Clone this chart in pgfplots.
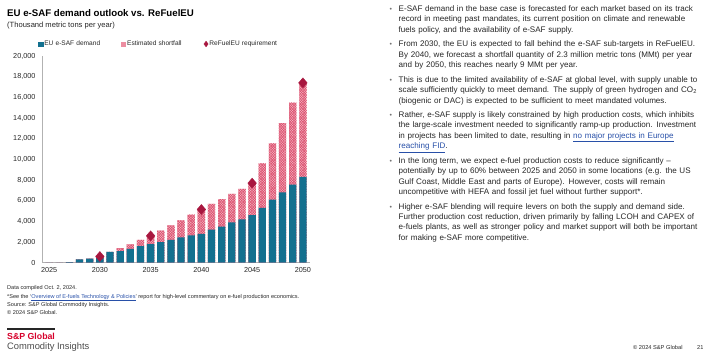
\documentclass[border=0pt]{standalone}
\usepackage{fontspec}
\setmainfont{Liberation Sans}
\usepackage{pgfplots}
\usepackage{pgfplotstable}
\pgfplotsset{compat=1.18}
\usetikzlibrary{patterns.meta}
\definecolor{tealc}{HTML}{13708F}
\definecolor{pinkl}{HTML}{F5B9C5}
\definecolor{pinkd}{HTML}{DC4F6E}
\definecolor{pinkm}{HTML}{EC8EA1}
\definecolor{redd}{HTML}{A8173F}
\definecolor{spred}{HTML}{D6002A}
\definecolor{linkb}{HTML}{2850A8}
\definecolor{txt}{HTML}{262626}

\pgfplotstableread{
year demand shortfall
2025 0 0
2026 10 0
2027 50 0
2028 330 0
2029 400 0
2030 450 180
2031 1050 0
2032 1120 300
2033 1330 450
2034 1600 600
2035 1800 800
2036 2000 1100
2037 2200 1400
2038 2450 1650
2039 2650 2000
2040 2800 2350
2041 3200 2500
2042 3500 2650
2043 3900 2750
2044 4200 2950
2045 4600 3100
2046 5300 4300
2047 6100 5450
2048 6800 6700
2049 7550 7950
2050 8300 9100
}\esaf

\pgfplotstableread{
year req
2030 600
2035 2600
2040 5150
2045 7700
2050 17400
}\refuel

\begin{document}
\begin{tikzpicture}
\path[use as bounding box] (0,0) rectangle (703bp,-356bp);

% titles
\node[anchor=base west, inner sep=0, font=\fontsize{9.7}{11}\selectfont\bfseries, text=black] at (7bp,-16.3bp) {EU e-SAF demand outlook vs. ReFuelEU};
\node[anchor=base west, inner sep=0, font=\fontsize{7.6}{9}\selectfont, text=txt] at (7bp,-27.8bp) {(Thousand metric tons per year)};

\begin{axis}[
  at={(42bp,-262.7bp)}, anchor=south west,
  scale only axis, width=268bp, height=206.7bp,
  xmin=2024.3, xmax=2050.7, ymin=0, ymax=20000,
  axis x line*=bottom, axis y line*=left,
  axis line style={draw=black!30, line width=0.5bp},
  major tick length=0pt,
  xtick={2025,2030,2035,2040,2045,2050},
  xticklabels={2025,2030,2035,2040,2045,2050},
  ytick={0,2000,...,20000},
  /pgf/number format/.cd, 1000 sep={,}, assume math mode=true, /pgfplots/.cd,
  scaled y ticks=false,
  tick label style={font=\fontsize{7.3}{8}\selectfont, text=txt},
  yticklabel style={xshift=-3bp},
  xticklabel style={yshift=-1bp},
  legend style={at={(axis description cs:-0.015,1.058)}, anchor=west,
    draw=none, fill=none, inner sep=0pt, legend columns=3, column sep=0pt,
    nodes={inner xsep=1.3bp, inner ysep=0pt, text width=75.5bp, align=left,
      font=\fontsize{6.6}{7}\selectfont, text=txt}},
  legend cell align=left,
  clip=false,
]
\addlegendimage{legend image code/.code={\fill[tealc] (0bp,-2.2bp) rectangle (4.4bp,2.2bp);}}
\addlegendentry{EU e-SAF demand}
\addlegendimage{legend image code/.code={\fill[pinkm] (0bp,-2.2bp) rectangle (4.4bp,2.2bp);}}
\addlegendentry{Estimated shortfall}
\addlegendimage{legend image code/.code={\path[redd, mark=diamond*, mark size=2.8bp] plot coordinates {(2.2bp,0bp)};}}
\addlegendentry{ReFuelEU requirement}

\addplot[forget plot, ybar, bar width=7.3bp, bar shift=0pt, draw=none, fill=pinkl,
  postaction={pattern={Lines[angle=45,distance=1.8bp,line width=0.6bp]}, pattern color=pinkd},
  postaction={pattern={Lines[angle=-45,distance=1.8bp,line width=0.6bp]}, pattern color=pinkd}]
  table[x=year, y expr=\thisrow{demand}+\thisrow{shortfall}] {\esaf};
\addplot[forget plot, ybar, bar width=7.3bp, bar shift=0pt, draw=none, fill=tealc]
  table[x=year, y=demand] {\esaf};
\addplot[forget plot, only marks, mark=diamond*, mark size=5bp, mark options={xscale=1.15}, color=redd]
  table[x=year, y=req] {\refuel};
\end{axis}

% footnotes
\begin{scope}[every node/.style={anchor=base west, inner sep=0, font=\fontsize{5.6}{6.5}\selectfont, text=txt}]
\node at (7bp,-289bp) {Data compiled Oct. 2, 2024.};
\node at (7bp,-298bp) {*See the ‘{\color{linkb}\underline{Overview of E-fuels Technology \& Policies}}’ report for high-level commentary on e-fuel production economics.};
\node at (7bp,-306bp) {Source: S\&P Global Commodity Insights.};
\node at (7bp,-314bp) {© 2024 S\&P Global.};
\end{scope}

% logo
\draw[line width=1.3bp, black!85] (7bp,-329bp) -- (55bp,-329bp);
\node[anchor=base west, inner sep=0, font=\fontsize{8.8}{10}\selectfont\bfseries, text=spred] at (7bp,-339bp) {S\&P Global};
\node[anchor=base west, inner sep=0, font=\fontsize{9.4}{10}\selectfont, text=black!70] at (7bp,-349.5bp) {Commodity Insights};

% bottom right
\node[anchor=base west, inner sep=0, font=\fontsize{5.7}{6.5}\selectfont, text=txt] at (633bp,-349bp) {© 2024 S\&P Global};
\node[anchor=base west, inner sep=0, font=\fontsize{5.7}{6.5}\selectfont, text=txt] at (697bp,-349bp) {21};

% bullets
\begin{scope}[every node/.style={anchor=base west, inner sep=0, font=\fontsize{8.1}{10.5}\selectfont, text=txt, text width=340bp, align=left}]
\foreach \yy in {11.5,46.8,82.1,117.4,163.2,209.0}{
  \node[text width=, font=\fontsize{7}{7}\selectfont, text=black!55] at (389.5bp,-\yy bp) {•};
}
\node at (398.5bp,-11.5bp) {E-SAF demand in the base case is forecasted for each market based on its track\\
record in meeting past mandates, its current position on climate and renewable\\
fuels policy, and the availability of e-SAF supply.};
\node at (398.5bp,-46.8bp) {From 2030, the EU is expected to fall behind the e-SAF sub-targets in ReFuelEU.\\
By 2040, we forecast a shortfall quantity of 2.3 million metric tons (MMt) per year\\
and by 2050, this reaches nearly 9 MMt per year.};
\node at (398.5bp,-82.1bp) {This is due to the limited availability of e-SAF at global level, with supply unable to\\
scale sufficiently quickly to meet demand. The supply of green hydrogen and CO\textsubscript{2}\\
(biogenic or DAC) is expected to be sufficient to meet mandated volumes.};
\node at (398.5bp,-117.4bp) {Rather, e-SAF supply is likely constrained by high production costs, which inhibits\\
the large-scale investment needed to significantly ramp-up production. Investment\\
in projects has been limited to date, resulting in {\color{linkb}\underline{no major projects in Europe}}\\
{\color{linkb}\underline{reaching FID}}.};
\node at (398.5bp,-163.2bp) {In the long term, we expect e-fuel production costs to reduce significantly –\\
potentially by up to 60\% between 2025 and 2050 in some locations (e.g. the US\\
Gulf Coast, Middle East and parts of Europe). However, costs will remain\\
uncompetitive with HEFA and fossil jet fuel without further support*.};
\node at (398.5bp,-209.0bp) {Higher e-SAF blending will require levers on both the supply and demand side.\\
Further production cost reduction, driven primarily by falling LCOH and CAPEX of\\
e-fuels plants, as well as stronger policy and market support will both be important\\
for making e-SAF more competitive.};
\end{scope}
\end{tikzpicture}
\end{document}
